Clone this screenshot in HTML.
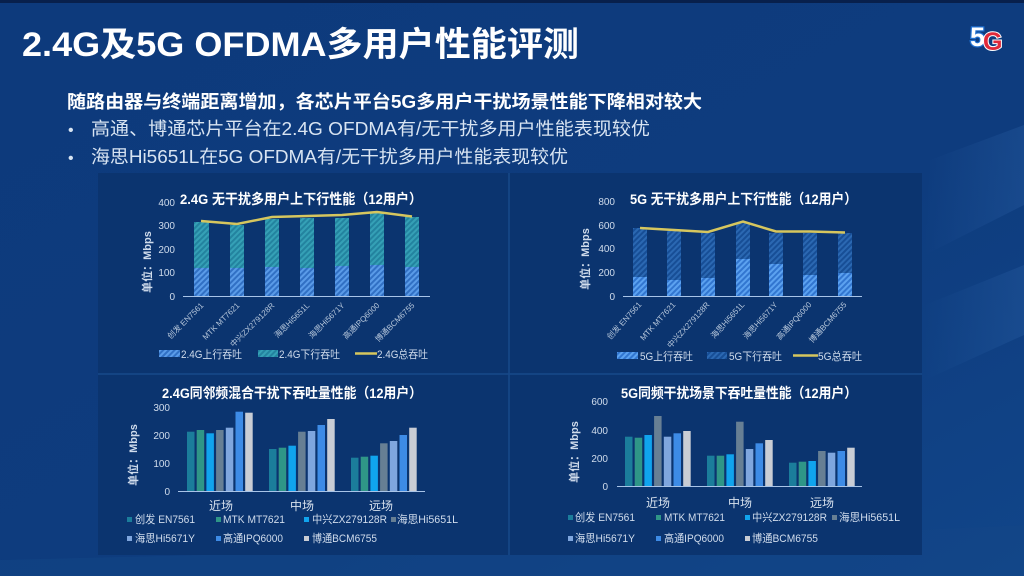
<!DOCTYPE html>
<html><head><meta charset="utf-8">
<style>
html,body{margin:0;padding:0;background:#0e3b7c;}
svg{display:block;}
text{font-family:"Liberation Sans","Noto Sans CJK SC",sans-serif;}
</style></head>
<body>
<svg width="1024" height="576" viewBox="0 0 1024 576" xmlns="http://www.w3.org/2000/svg">
<defs>
  <linearGradient id="bg" x1="0" y1="0" x2="1" y2="1">
    <stop offset="0" stop-color="#0d3a7c"/>
    <stop offset="0.6" stop-color="#0e3c7e"/>
    <stop offset="1" stop-color="#114589"/>
  </linearGradient>
  <linearGradient id="streak" x1="0" y1="0" x2="1" y2="0">
    <stop offset="0" stop-color="#2a5fa4" stop-opacity="0"/>
    <stop offset="1" stop-color="#2a5fa4" stop-opacity="0.35"/>
  </linearGradient>
  <pattern id="up24" width="4" height="4" patternUnits="userSpaceOnUse" patternTransform="rotate(45)">
    <rect width="4" height="4" fill="#3170c4"/><rect width="2" height="4" fill="#5a9be8"/>
  </pattern>
  <pattern id="dn24" width="4" height="4" patternUnits="userSpaceOnUse" patternTransform="rotate(45)">
    <rect width="4" height="4" fill="#23839f"/><rect width="2" height="4" fill="#35a0b6"/>
  </pattern>
  <pattern id="up5" width="4" height="4" patternUnits="userSpaceOnUse" patternTransform="rotate(45)">
    <rect width="4" height="4" fill="#3276d0"/><rect width="2" height="4" fill="#5ca2f0"/>
  </pattern>
  <pattern id="dn5" width="4" height="4" patternUnits="userSpaceOnUse" patternTransform="rotate(45)">
    <rect width="4" height="4" fill="#174e96"/><rect width="2" height="4" fill="#2b68b2"/>
  </pattern>
</defs>

<rect width="1024" height="576" fill="url(#bg)"/>
<rect width="1024" height="3" fill="#08204c"/>
<!-- subtle streaks right side -->
<polygon points="930,160 1024,125 1024,205 925,255" fill="url(#streak)"/>
<polygon points="925,305 1024,265 1024,335 925,380" fill="url(#streak)"/>
<polygon points="0,560 600,545 1024,525 1024,576 0,576" fill="#134788" opacity="0.45"/>

<!-- panels -->
<rect x="98" y="173" width="824" height="382" fill="#0b346f"/>
<line x1="509" y1="173" x2="509" y2="555" stroke="#17498a" stroke-width="1.5"/>
<line x1="98" y1="374" x2="922" y2="374" stroke="#17498a" stroke-width="1.5"/>

<!-- title -->
<text x="22" y="56" font-size="34" font-weight="bold" fill="#ffffff" textLength="557" lengthAdjust="spacingAndGlyphs">2.4G及5G OFDMA多用户性能评测</text>
<!-- logo -->
<text x="970" y="46" font-size="27" font-weight="bold" fill="#ffffff" stroke="#1f6fd0" stroke-width="2.5" paint-order="stroke">5</text>
<text x="983" y="50" font-size="25" font-weight="bold" fill="#e02a3a" stroke="#ffffff" stroke-width="2" paint-order="stroke">G</text>

<!-- subtitle & bullets -->
<text x="67" y="108" font-size="18" font-weight="bold" fill="#ffffff" textLength="635" lengthAdjust="spacingAndGlyphs">随路由器与终端距离增加，各芯片平台5G多用户干扰场景性能下降相对较大</text>
<text x="68" y="135" font-size="16" fill="#d8e4f2">•</text>
<text x="91" y="135" font-size="18" fill="#d8e4f2" textLength="559" lengthAdjust="spacingAndGlyphs">高通、博通芯片平台在2.4G OFDMA有/无干扰多用户性能表现较优</text>
<text x="68" y="163" font-size="16" fill="#d8e4f2">•</text>
<text x="91" y="163" font-size="18" fill="#d8e4f2" textLength="477" lengthAdjust="spacingAndGlyphs">海思Hi5651L在5G OFDMA有/无干扰多用户性能表现较优</text>

<!-- ============ Chart 1 ============ -->
<text x="180" y="204" font-size="14" font-weight="bold" fill="#ffffff" textLength="242" lengthAdjust="spacingAndGlyphs">2.4G 无干扰多用户上下行性能（12用户）</text>
<g font-size="10" fill="#d0dcec" text-anchor="end">
  <text x="175" y="206">400</text><text x="175" y="229">300</text><text x="175" y="253">200</text><text x="175" y="276">100</text><text x="175" y="300">0</text>
</g>
<text transform="translate(151,262) rotate(-90)" font-size="11" font-weight="bold" fill="#d0dcec" text-anchor="middle">单位：Mbps</text>
<g>
  <rect x="194" y="222" width="15" height="46" fill="url(#dn24)"/><rect x="194" y="268" width="15" height="28" fill="url(#up24)"/>
  <rect x="230" y="225" width="14" height="43" fill="url(#dn24)"/><rect x="230" y="268" width="14" height="28" fill="url(#up24)"/>
  <rect x="265" y="219" width="14" height="48" fill="url(#dn24)"/><rect x="265" y="267" width="14" height="29" fill="url(#up24)"/>
  <rect x="300" y="218" width="14" height="50" fill="url(#dn24)"/><rect x="300" y="268" width="14" height="28" fill="url(#up24)"/>
  <rect x="335" y="218" width="14" height="48" fill="url(#dn24)"/><rect x="335" y="266" width="14" height="30" fill="url(#up24)"/>
  <rect x="370" y="213" width="14" height="52" fill="url(#dn24)"/><rect x="370" y="265" width="14" height="31" fill="url(#up24)"/>
  <rect x="405" y="217" width="14" height="50" fill="url(#dn24)"/><rect x="405" y="267" width="14" height="29" fill="url(#up24)"/>
</g>
<line x1="183" y1="296.5" x2="430" y2="296.5" stroke="#a8c4e8" stroke-width="1"/>
<polyline points="201,221 237,224 272,217 307,216 342,215 377,212 412,216.5" fill="none" stroke="#d6c65e" stroke-width="2.5"/>
<g font-size="8" fill="#b8c8dc" text-anchor="end">
  <text transform="translate(204,306) rotate(-45)">创发 EN7561</text>
  <text transform="translate(240,306) rotate(-45)">MTK MT7621</text>
  <text transform="translate(275,306) rotate(-45)">中兴ZX279128R</text>
  <text transform="translate(310,306) rotate(-45)">海思Hi5651L</text>
  <text transform="translate(345,306) rotate(-45)">海思Hi5671Y</text>
  <text transform="translate(380,306) rotate(-45)">高通IPQ6000</text>
  <text transform="translate(415,306) rotate(-45)">博通BCM6755</text>
</g>
<rect x="159" y="350" width="21" height="7" fill="url(#up24)"/>
<text x="181" y="358" font-size="11" fill="#d0dcec" textLength="61" lengthAdjust="spacingAndGlyphs">2.4G上行吞吐</text>
<rect x="258" y="350" width="20" height="7" fill="url(#dn24)"/>
<text x="279" y="358" font-size="11" fill="#d0dcec" textLength="61" lengthAdjust="spacingAndGlyphs">2.4G下行吞吐</text>
<line x1="355" y1="353.5" x2="377" y2="353.5" stroke="#d6c65e" stroke-width="2.5"/>
<text x="377" y="358" font-size="11" fill="#d0dcec" textLength="51" lengthAdjust="spacingAndGlyphs">2.4G总吞吐</text>

<!-- ============ Chart 2 ============ -->
<text x="630" y="204" font-size="14" font-weight="bold" fill="#ffffff" textLength="227" lengthAdjust="spacingAndGlyphs">5G 无干扰多用户上下行性能（12用户）</text>
<g font-size="10" fill="#d0dcec" text-anchor="end">
  <text x="615" y="205">800</text><text x="615" y="229">600</text><text x="615" y="252">400</text><text x="615" y="276">200</text><text x="615" y="300">0</text>
</g>
<text transform="translate(589,259) rotate(-90)" font-size="11" font-weight="bold" fill="#d0dcec" text-anchor="middle">单位：Mbps</text>
<g>
  <rect x="633" y="228" width="14" height="49" fill="url(#dn5)"/><rect x="633" y="277" width="14" height="19" fill="url(#up5)"/>
  <rect x="667" y="231" width="14" height="49" fill="url(#dn5)"/><rect x="667" y="280" width="14" height="16" fill="url(#up5)"/>
  <rect x="701" y="233" width="14" height="45" fill="url(#dn5)"/><rect x="701" y="278" width="14" height="18" fill="url(#up5)"/>
  <rect x="736" y="223" width="14" height="36" fill="url(#dn5)"/><rect x="736" y="259" width="14" height="37" fill="url(#up5)"/>
  <rect x="769" y="233" width="14" height="31" fill="url(#dn5)"/><rect x="769" y="264" width="14" height="32" fill="url(#up5)"/>
  <rect x="803" y="233" width="14" height="42" fill="url(#dn5)"/><rect x="803" y="275" width="14" height="21" fill="url(#up5)"/>
  <rect x="838" y="233" width="14" height="40" fill="url(#dn5)"/><rect x="838" y="273" width="14" height="23" fill="url(#up5)"/>
</g>
<line x1="623" y1="296.5" x2="862" y2="296.5" stroke="#a8c4e8" stroke-width="1"/>
<polyline points="640,228 674,230 708,232 743,221.5 776,231.5 810,231.5 845,232.5" fill="none" stroke="#d6c65e" stroke-width="2.5"/>
<g font-size="8" fill="#b8c8dc" text-anchor="end">
  <text transform="translate(642,305) rotate(-48)">创发 EN7561</text>
  <text transform="translate(676,305) rotate(-48)">MTK MT7621</text>
  <text transform="translate(710,305) rotate(-48)">中兴ZX279128R</text>
  <text transform="translate(745,305) rotate(-48)">海思Hi5651L</text>
  <text transform="translate(778,305) rotate(-48)">海思Hi5671Y</text>
  <text transform="translate(812,305) rotate(-48)">高通IPQ6000</text>
  <text transform="translate(847,305) rotate(-48)">博通BCM6755</text>
</g>
<rect x="617" y="352" width="21" height="7" fill="url(#up5)"/>
<text x="640" y="360" font-size="11" fill="#d0dcec" textLength="53" lengthAdjust="spacingAndGlyphs">5G上行吞吐</text>
<rect x="707" y="352" width="20" height="7" fill="url(#dn5)"/>
<text x="729" y="360" font-size="11" fill="#d0dcec" textLength="53" lengthAdjust="spacingAndGlyphs">5G下行吞吐</text>
<line x1="793" y1="355.5" x2="818" y2="355.5" stroke="#d6c65e" stroke-width="2.5"/>
<text x="818" y="360" font-size="11" fill="#d0dcec" textLength="44" lengthAdjust="spacingAndGlyphs">5G总吞吐</text>

<!-- ============ Chart 3 ============ -->
<text x="162" y="398" font-size="14" font-weight="bold" fill="#ffffff" textLength="260" lengthAdjust="spacingAndGlyphs">2.4G同邻频混合干扰下吞吐量性能（12用户）</text>
<g font-size="10" fill="#d0dcec" text-anchor="end">
  <text x="170" y="411">300</text><text x="170" y="439">200</text><text x="170" y="467">100</text><text x="170" y="495">0</text>
</g>
<text transform="translate(137,455) rotate(-90)" font-size="11" font-weight="bold" fill="#d0dcec" text-anchor="middle">单位：Mbps</text>
<g>
  <rect x="187" y="431.7" width="7.5" height="59.3" fill="#1b7d9b"/>
  <rect x="196.7" y="430" width="7.5" height="61" fill="#2f9687"/>
  <rect x="206.4" y="433.3" width="7.5" height="57.7" fill="#10a4ee"/>
  <rect x="216.1" y="430" width="7.5" height="61" fill="#677f94"/>
  <rect x="225.8" y="427.7" width="7.5" height="63.3" fill="#7fa6de"/>
  <rect x="235.5" y="411.7" width="7.5" height="79.3" fill="#3d8be6"/>
  <rect x="245.2" y="412.7" width="7.5" height="78.3" fill="#c9cdd5"/>
  <rect x="269" y="449" width="7.5" height="42" fill="#1b7d9b"/>
  <rect x="278.7" y="447.7" width="7.5" height="43.3" fill="#2f9687"/>
  <rect x="288.4" y="445.7" width="7.5" height="45.3" fill="#10a4ee"/>
  <rect x="298.1" y="431.7" width="7.5" height="59.3" fill="#677f94"/>
  <rect x="307.8" y="431" width="7.5" height="60" fill="#7fa6de"/>
  <rect x="317.5" y="425" width="7.5" height="66" fill="#3d8be6"/>
  <rect x="327.2" y="419" width="7.5" height="72" fill="#c9cdd5"/>
  <rect x="351" y="457.7" width="7.5" height="33.3" fill="#1b7d9b"/>
  <rect x="360.7" y="456.7" width="7.5" height="34.3" fill="#2f9687"/>
  <rect x="370.4" y="455.7" width="7.5" height="35.3" fill="#10a4ee"/>
  <rect x="380.1" y="443.3" width="7.5" height="47.7" fill="#677f94"/>
  <rect x="389.8" y="441" width="7.5" height="50" fill="#7fa6de"/>
  <rect x="399.5" y="435" width="7.5" height="56" fill="#3d8be6"/>
  <rect x="409.2" y="427.7" width="7.5" height="63.3" fill="#c9cdd5"/>
</g>
<line x1="178" y1="491.5" x2="425" y2="491.5" stroke="#a8c4e8" stroke-width="1"/>
<g font-size="12" fill="#d8e2ee" text-anchor="middle">
  <text x="221" y="510">近场</text><text x="302" y="510">中场</text><text x="381" y="510">远场</text>
</g>
<g font-size="11" fill="#d0dcec">
  <rect x="127" y="517" width="5" height="5" fill="#1b7d9b"/><text x="135" y="523" textLength="60" lengthAdjust="spacingAndGlyphs">创发 EN7561</text>
  <rect x="216" y="517" width="5" height="5" fill="#2f9687"/><text x="223" y="523" textLength="62" lengthAdjust="spacingAndGlyphs">MTK MT7621</text>
  <rect x="304" y="517" width="5" height="5" fill="#10a4ee"/><text x="312" y="523" textLength="75" lengthAdjust="spacingAndGlyphs">中兴ZX279128R</text>
  <rect x="391" y="517" width="5" height="5" fill="#677f94"/><text x="397" y="523" textLength="61" lengthAdjust="spacingAndGlyphs">海思Hi5651L</text>
  <rect x="127" y="536" width="5" height="5" fill="#7fa6de"/><text x="135" y="542" textLength="60" lengthAdjust="spacingAndGlyphs">海思Hi5671Y</text>
  <rect x="216" y="536" width="5" height="5" fill="#3d8be6"/><text x="223" y="542" textLength="60" lengthAdjust="spacingAndGlyphs">高通IPQ6000</text>
  <rect x="304" y="536" width="5" height="5" fill="#c9cdd5"/><text x="312" y="542" textLength="65" lengthAdjust="spacingAndGlyphs">博通BCM6755</text>
</g>

<!-- ============ Chart 4 ============ -->
<text x="621" y="398" font-size="14" font-weight="bold" fill="#ffffff" textLength="236" lengthAdjust="spacingAndGlyphs">5G同频干扰场景下吞吐量性能（12用户）</text>
<g font-size="10" fill="#d0dcec" text-anchor="end">
  <text x="608" y="405">600</text><text x="608" y="434">400</text><text x="608" y="462">200</text><text x="608" y="490">0</text>
</g>
<text transform="translate(578,452) rotate(-90)" font-size="11" font-weight="bold" fill="#d0dcec" text-anchor="middle">单位：Mbps</text>
<g>
  <rect x="625" y="436.7" width="7.5" height="49.3" fill="#1b7d9b"/>
  <rect x="634.7" y="437.7" width="7.5" height="48.3" fill="#2f9687"/>
  <rect x="644.4" y="435" width="7.5" height="51" fill="#10a4ee"/>
  <rect x="654.1" y="416" width="7.5" height="70" fill="#677f94"/>
  <rect x="663.8" y="436.7" width="7.5" height="49.3" fill="#7fa6de"/>
  <rect x="673.5" y="433.3" width="7.5" height="52.7" fill="#3d8be6"/>
  <rect x="683.2" y="431" width="7.5" height="55" fill="#c9cdd5"/>
  <rect x="707" y="455.7" width="7.5" height="30.3" fill="#1b7d9b"/>
  <rect x="716.7" y="455.7" width="7.5" height="30.3" fill="#2f9687"/>
  <rect x="726.4" y="454.3" width="7.5" height="31.7" fill="#10a4ee"/>
  <rect x="736.1" y="421.7" width="7.5" height="64.3" fill="#677f94"/>
  <rect x="745.8" y="449" width="7.5" height="37" fill="#7fa6de"/>
  <rect x="755.5" y="443.3" width="7.5" height="42.7" fill="#3d8be6"/>
  <rect x="765.2" y="440" width="7.5" height="46" fill="#c9cdd5"/>
  <rect x="789" y="462.7" width="7.5" height="23.3" fill="#1b7d9b"/>
  <rect x="798.7" y="461.7" width="7.5" height="24.3" fill="#2f9687"/>
  <rect x="808.4" y="461" width="7.5" height="25" fill="#10a4ee"/>
  <rect x="818.1" y="451" width="7.5" height="35" fill="#677f94"/>
  <rect x="827.8" y="452.7" width="7.5" height="33.3" fill="#7fa6de"/>
  <rect x="837.5" y="451" width="7.5" height="35" fill="#3d8be6"/>
  <rect x="847.2" y="447.7" width="7.5" height="38.3" fill="#c9cdd5"/>
</g>
<line x1="617" y1="486.5" x2="862" y2="486.5" stroke="#a8c4e8" stroke-width="1"/>
<g font-size="12" fill="#d8e2ee" text-anchor="middle">
  <text x="658" y="507">近场</text><text x="740" y="507">中场</text><text x="822" y="507">远场</text>
</g>
<g font-size="11" fill="#d0dcec">
  <rect x="568" y="515" width="5" height="5" fill="#1b7d9b"/><text x="575" y="521" textLength="60" lengthAdjust="spacingAndGlyphs">创发 EN7561</text>
  <rect x="656" y="515" width="5" height="5" fill="#2f9687"/><text x="664" y="521" textLength="61" lengthAdjust="spacingAndGlyphs">MTK MT7621</text>
  <rect x="745" y="515" width="5" height="5" fill="#10a4ee"/><text x="752" y="521" textLength="75" lengthAdjust="spacingAndGlyphs">中兴ZX279128R</text>
  <rect x="832" y="515" width="5" height="5" fill="#677f94"/><text x="839" y="521" textLength="61" lengthAdjust="spacingAndGlyphs">海思Hi5651L</text>
  <rect x="568" y="536" width="5" height="5" fill="#7fa6de"/><text x="575" y="542" textLength="60" lengthAdjust="spacingAndGlyphs">海思Hi5671Y</text>
  <rect x="656" y="536" width="5" height="5" fill="#3d8be6"/><text x="664" y="542" textLength="60" lengthAdjust="spacingAndGlyphs">高通IPQ6000</text>
  <rect x="745" y="536" width="5" height="5" fill="#c9cdd5"/><text x="752" y="542" textLength="66" lengthAdjust="spacingAndGlyphs">博通BCM6755</text>
</g>
</svg>
</body></html>
